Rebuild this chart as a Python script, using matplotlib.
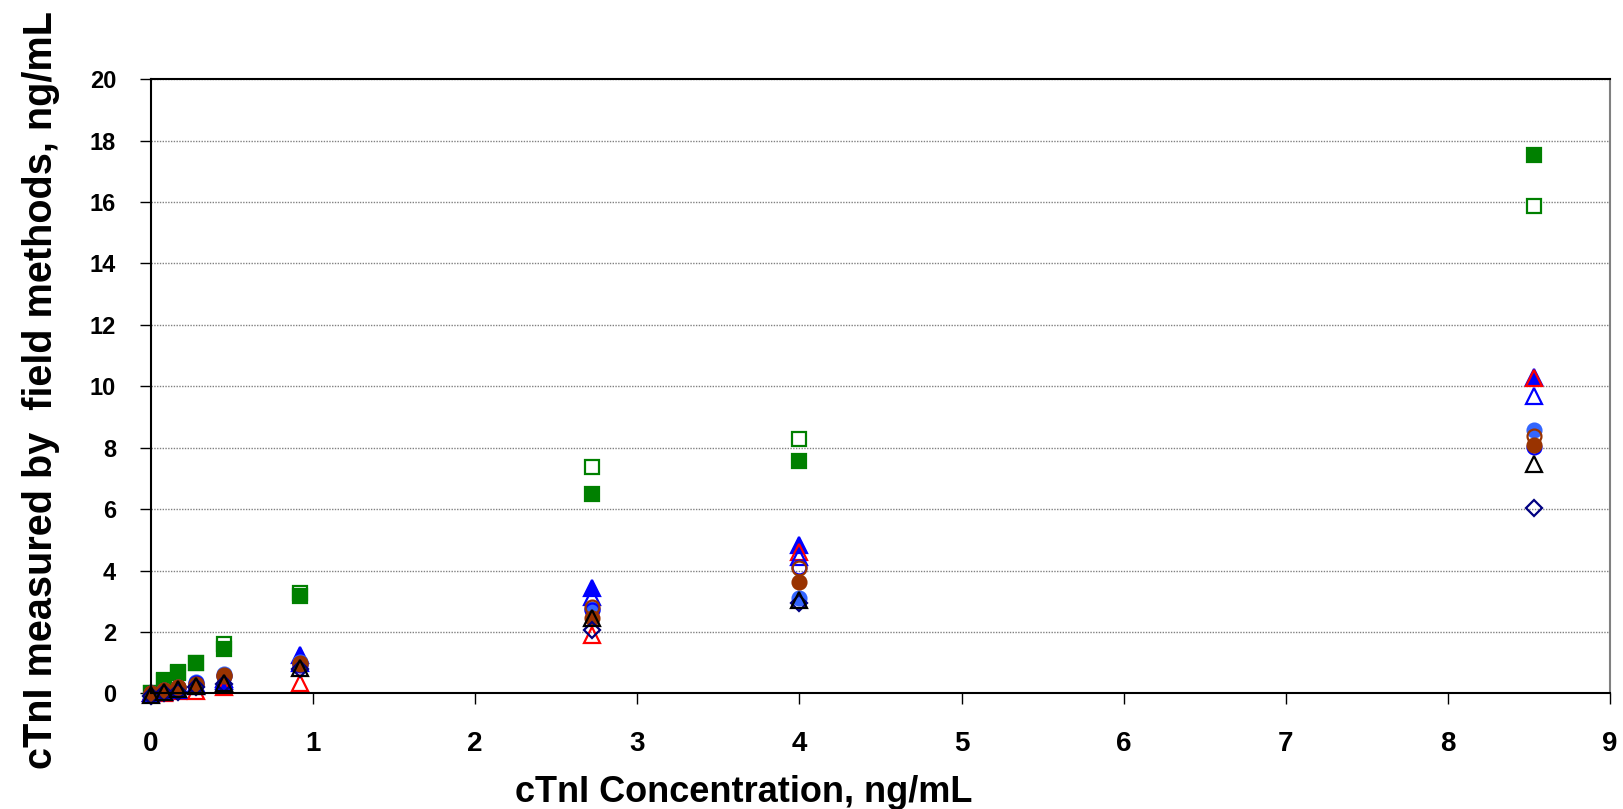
import matplotlib
matplotlib.use("Agg")
from matplotlib import pyplot as plt

# ─────────────────────────────────────────────────────────────────
# DATA
# ─────────────────────────────────────────────────────────────────

conc = [0.0, 0.08, 0.165, 0.28, 0.45, 0.92, 2.72, 4.0, 8.53]

green_sq_open     = [0.00, 0.40, 0.66, 1.00, 1.62, 3.26, 7.38, 8.27, 15.87]
green_sq_filled   = [0.02, 0.42, 0.68, 0.98, 1.45, 3.18, 6.49, 7.56, 17.52]
blue_tri_filled   = [0.00, 0.05, 0.12, 0.30, 0.45, 1.25, 3.42, 4.83, 10.30]
red_tri_open      = [0.00, 0.02, 0.08, 0.08, 0.20, 0.35, 1.90, 4.61, 10.28]
blue_tri_open     = [0.00, 0.05, 0.10, 0.25, 0.40, 1.00, 3.15, 4.45, 9.69]
royal_circ_filled = [0.00, 0.10, 0.20, 0.38, 0.62, 1.02, 2.75, 3.10, 8.57]
blue_circ_open    = [0.00, 0.08, 0.18, 0.32, 0.55, 0.92, 2.70, 4.10, 8.03]
brown_circ_open   = [0.00, 0.10, 0.20, 0.30, 0.60, 0.95, 2.80, 4.09, 8.38]
brown_circ_filled = [0.00, 0.10, 0.20, 0.28, 0.55, 0.98, 2.45, 3.62, 8.10]
navy_diam_open    = [-0.10, 0.00, 0.05, 0.20, 0.30, 0.80, 2.07, 2.93, 6.05]
black_tri_open    = [-0.05, 0.05, 0.15, 0.25, 0.33, 0.82, 2.45, 3.04, 7.46]

x_ticks = [0, 1, 2, 3, 4, 5, 6, 7, 8, 9]
y_ticks = [0, 2, 4, 6, 8, 10, 12, 14, 16, 18, 20]

# ─────────────────────────────────────────────────────────────────
# STYLE
# ─────────────────────────────────────────────────────────────────

FONT = "Liberation Sans"

series = [
    # values,            marker, face,       edge
    (green_sq_open,     "s", "white",   "#008000"),
    (green_sq_filled,   "s", "#008000", "#008000"),
    (blue_tri_filled,   "^", "#0000FF", "#0000FF"),
    (red_tri_open,      "^", "none",    "#FF0000"),
    (blue_tri_open,     "^", "none",    "#0000FF"),
    (royal_circ_filled, "o", "#3366FF", "#3366FF"),
    (blue_circ_open,    "o", "none",    "#0000FF"),
    (brown_circ_open,   "o", "none",    "#993300"),
    (brown_circ_filled, "o", "#993300", "#993300"),
    (navy_diam_open,    "D", "none",    "#000080"),
    (black_tri_open,    "^", "none",    "#000000"),
]
SIZES = {"s": 10, "^": 11, "o": 10, "D": 8.5}

# ─────────────────────────────────────────────────────────────────
# PLOT
# ─────────────────────────────────────────────────────────────────

fig = plt.figure(figsize=(16.23, 8.09), dpi=100)
ax = fig.add_axes([0.093, 0.143, 0.899, 0.759])

for vals, mk, fc, ec in series:
    ax.plot(conc, vals, linestyle="none", marker=mk, markersize=SIZES[mk],
            markerfacecolor=fc, markeredgecolor=ec, markeredgewidth=1.6,
            clip_on=False)

ax.set_xlim(0, 9)
ax.set_ylim(0, 20)
ax.set_xticks(x_ticks)
ax.set_yticks(y_ticks)
ax.yaxis.grid(True, linestyle=(0, (1, 1)), color="#808080", linewidth=1.0)
ax.set_axisbelow(True)

for s in ax.spines.values():
    s.set_color("black")
    s.set_linewidth(1.5)
ax.spines["right"].set_color("#808080")

ax.tick_params(axis="x", direction="out", length=8, width=1.0, pad=19)
ax.tick_params(axis="y", direction="out", length=8, width=1.0, pad=17)

for lab in ax.get_xticklabels():
    lab.set_fontfamily(FONT)
    lab.set_fontweight("bold")
    lab.set_fontsize(20)
for lab in ax.get_yticklabels():
    lab.set_fontfamily(FONT)
    lab.set_fontweight("bold")
    lab.set_fontsize(17)

ax.set_xlabel("cTnI Concentration, ng/mL", fontfamily=FONT,
              fontweight="bold", fontsize=26, va="center")
ax.xaxis.set_label_coords(0.406, -0.161)
ax.set_ylabel("cTnI measured by  field methods, ng/mL", fontfamily=FONT,
              fontweight="bold", fontsize=28.5, va="center")
ax.yaxis.set_label_coords(-0.0754, 0.494)

fig.savefig("out.png", dpi=100)
